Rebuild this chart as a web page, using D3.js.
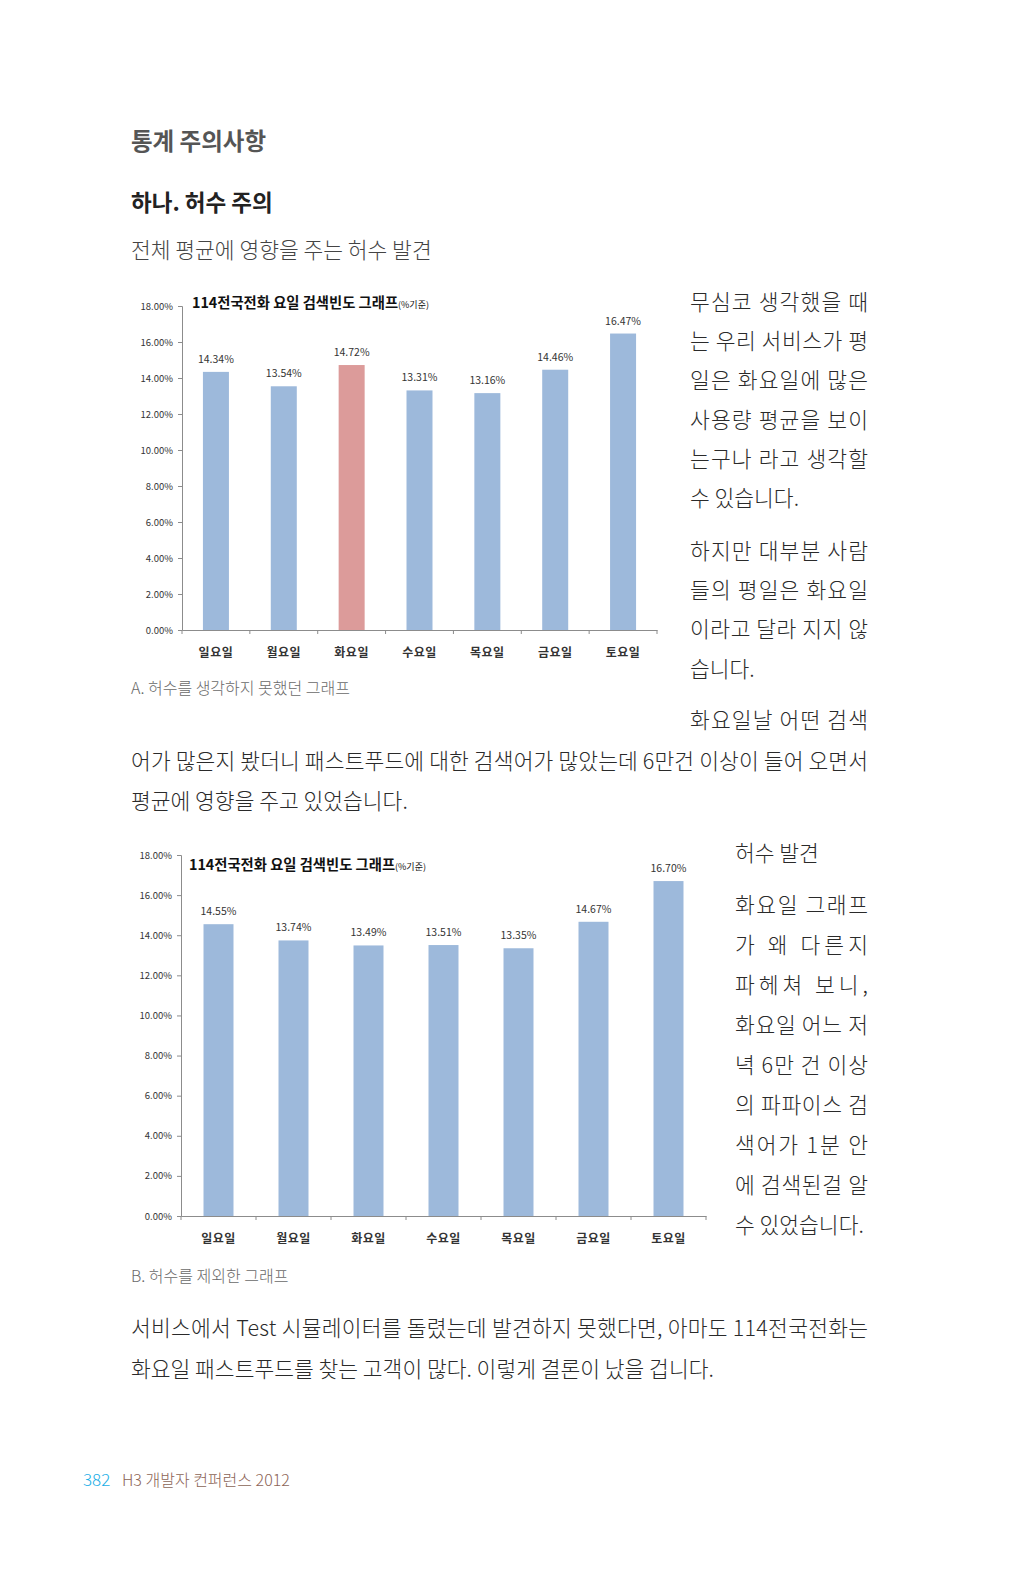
<!DOCTYPE html>
<html>
<head>
<meta charset="utf-8">
<script src="https://cdn.jsdelivr.net/npm/d3@7"></script>
<style>
  html, body { margin: 0; padding: 0; background: #fff; }
  svg { display: block; }
  text { font-family: "Noto Sans CJK KR", "Noto Sans", sans-serif; }
</style>
</head>
<body>
<svg width="1024" height="1585"></svg>
<script>
// chart data
const days = ["일요일", "월요일", "화요일", "수요일", "목요일", "금요일", "토요일"];
const valuesA = [14.34, 13.54, 14.72, 13.31, 13.16, 14.46, 16.47];
const valuesB = [14.55, 13.74, 13.49, 13.51, 13.35, 14.67, 16.70];
const highlightA = "화요일";
const yTicks = [0, 2, 4, 6, 8, 10, 12, 14, 16, 18];
const chartTitle = "114전국전화 요일 검색빈도 그래프";
const chartTitleSmall = "(%기준)";

// page text
const sideA = ["무심코 생각했을 때", "는 우리 서비스가 평", "일은 화요일에 많은", "사용량 평균을 보이", "는구나 라고 생각할", "수 있습니다."];
const sideA2 = ["하지만 대부분 사람", "들의 평일은 화요일", "이라고 달라 지지 않", "습니다."];
const sideB = ["화요일 그래프", "가 왜 다른지", "파헤쳐 보니,", "화요일 어느 저", "녁 6만 건 이상", "의 파파이스 검", "색어가 1분 안", "에 검색된걸 알", "수 있었습니다."];

const svg = d3.select("svg");
const textColor = "#2a2a2a";

// headings
svg.append("text").attr("x", 131).attr("y", 150)
  .attr("font-size", "23.5px").attr("font-weight", "bold").attr("fill", "#555")
  .text("통계 주의사항");
svg.append("text").attr("x", 131).attr("y", 211)
  .attr("font-size", "22.5px").attr("font-weight", "bold").attr("fill", "#222")
  .text("하나. 허수 주의");
svg.append("text").attr("x", 131).attr("y", 258)
  .attr("font-size", "21.5px").attr("font-weight", 300).attr("fill", "#444")
  .text("전체 평균에 영향을 주는 허수 발견");

// justified line helper
function line(x, y, str, width, opts) {
  const t = svg.append("text").attr("x", x).attr("y", y)
    .attr("font-size", (opts && opts.size) || "21.5px")
    .attr("font-weight", 300)
    .attr("fill", (opts && opts.color) || textColor)
    .text(str);
  if (width) t.attr("textLength", width).attr("lengthAdjust", "spacing");
  if (opts && opts.anchor) t.attr("text-anchor", opts.anchor);
  return t;
}

sideA.forEach((s, i) => line(690, 310 + i * 39.2, s, i < sideA.length - 1 ? 178 : null));
sideA2.forEach((s, i) => line(690, 559 + i * 39.2, s, i < sideA2.length - 1 ? 178 : null));
line(690, 728, "화요일날 어떤 검색", 178);
line(131, 769, "어가 많은지 봤더니 패스트푸드에 대한 검색어가 많았는데 6만건 이상이 들어 오면서", 737);
line(131, 809, "평균에 영향을 주고 있었습니다.");

line(735, 861, "허수 발견");
sideB.forEach((s, i) => line(735, 913 + i * 40, s, i < sideB.length - 1 ? 133 : null));

line(131, 1336, "서비스에서 Test 시뮬레이터를 돌렸는데 발견하지 못했다면, 아마도 114전국전화는", 737);
line(131, 1377, "화요일 패스트푸드를 찾는 고객이 많다. 이렇게 결론이 났을 겁니다.");

// captions
svg.append("text").attr("x", 131).attr("y", 694).attr("font-size", "16px").attr("font-weight", 300).attr("fill", "#6a6a6a")
  .text("A. 허수를 생각하지 못했던 그래프");
svg.append("text").attr("x", 131).attr("y", 1282).attr("font-size", "16px").attr("font-weight", 300).attr("fill", "#6a6a6a")
  .text("B. 허수를 제외한 그래프");

// footer
svg.append("text").attr("x", 83).attr("y", 1486).attr("font-size", "17px").attr("font-weight", 300).attr("fill", "#1aaee6")
  .text("382");
svg.append("text").attr("x", 122).attr("y", 1486).attr("font-size", "16px").attr("font-weight", 300).attr("fill", "#8c6456")
  .text("H3 개발자 컨퍼런스 2012");

// bar chart drawer
function drawChart(cfg) {
  const g = svg.append("g");
  const x = d3.scaleBand().domain(days).range([cfg.left, cfg.right]).paddingInner(0).paddingOuter(0);
  const y = d3.scaleLinear().domain([0, 18]).range([cfg.bottom, cfg.top]);
  const bw = cfg.barWidth;

  // y axis
  const yAxis = g.append("g").attr("transform", `translate(${cfg.left},0)`)
    .call(d3.axisLeft(y).tickValues(yTicks).tickSize(4).tickFormat(d => d3.format(".2f")(d) + "%"));
  yAxis.select(".domain").attr("stroke", "#8c8c8c");
  yAxis.selectAll(".tick line").attr("stroke", "#8c8c8c");
  yAxis.selectAll(".tick text").attr("font-family", "DejaVu Sans, sans-serif")
    .attr("font-size", "9.5px").attr("fill", "#333").attr("x", -9);

  // x axis
  const xAxis = g.append("g").attr("transform", `translate(0,${cfg.bottom})`)
    .call(d3.axisBottom(x).tickSize(0).tickFormat(""));
  xAxis.select(".domain").attr("stroke", "#8c8c8c");
  xAxis.selectAll(".tick").remove();
  // boundary ticks
  const bounds = days.map(d => x(d)).concat([cfg.right]);
  g.selectAll(".bt").data(bounds).enter().append("line")
    .attr("x1", d => d).attr("x2", d => d)
    .attr("y1", cfg.bottom).attr("y2", cfg.bottom + 4)
    .attr("stroke", "#8c8c8c");

  // category labels
  g.selectAll(".cat").data(days).enter().append("text")
    .attr("x", d => x(d) + x.bandwidth() / 2)
    .attr("y", cfg.bottom + 27)
    .attr("text-anchor", "middle")
    .attr("font-size", "12px").attr("font-weight", "bold").attr("fill", "#333")
    .attr("letter-spacing", "0.5px")
    .text(d => d);

  // bars
  g.selectAll(".bar").data(cfg.values).enter().append("rect")
    .attr("x", (d, i) => x(days[i]) + x.bandwidth() / 2 - bw / 2)
    .attr("y", d => y(d))
    .attr("width", bw)
    .attr("height", d => cfg.bottom - y(d))
    .attr("fill", (d, i) => days[i] === cfg.highlight ? "#dc9b9a" : "#9db9db");

  // value labels
  g.selectAll(".val").data(cfg.values).enter().append("text")
    .attr("x", (d, i) => x(days[i]) + x.bandwidth() / 2)
    .attr("y", d => y(d) - 9)
    .attr("text-anchor", "middle")
    .attr("font-family", "DejaVu Sans, sans-serif")
    .attr("font-size", "10.5px").attr("fill", "#333")
    .text(d => d3.format(".2f")(d) + "%");

  // title
  const t = g.append("text").attr("x", cfg.titleX).attr("y", cfg.titleY)
    .attr("font-size", "14.3px").attr("font-weight", "bold").attr("fill", "#111");
  t.append("tspan").text(chartTitle);
  t.append("tspan").attr("font-size", "9px").attr("font-weight", "normal").text(chartTitleSmall);
}

drawChart({left: 182, right: 657, top: 306, bottom: 630, barWidth: 26,
  values: valuesA, highlight: highlightA, titleX: 192, titleY: 308});
drawChart({left: 181, right: 706, top: 855, bottom: 1216, barWidth: 30,
  values: valuesB, highlight: null, titleX: 189, titleY: 870});
</script>
</body>
</html>
